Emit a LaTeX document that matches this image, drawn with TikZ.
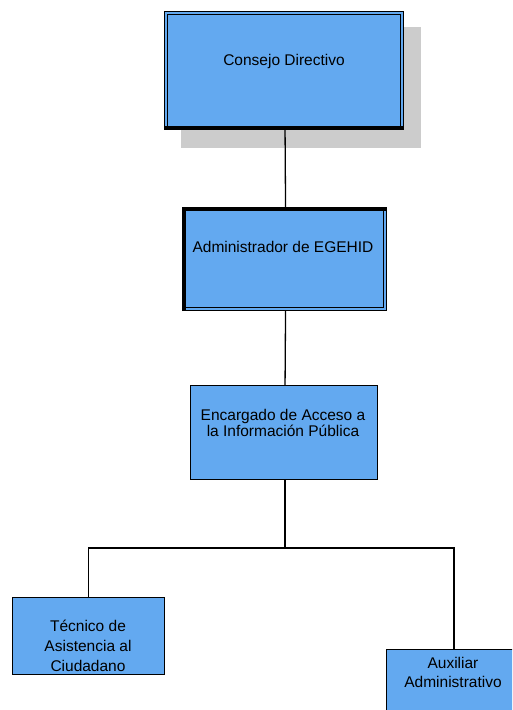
\documentclass[tikz,border=0pt]{standalone}
\usepackage{fontspec}
\setmainfont{Liberation Sans}
\definecolor{boxblue}{RGB}{99,169,240}
\definecolor{shadowgray}{RGB}{204,204,204}
\tikzset{
  box/.style={draw=black, fill=boxblue, line width=1.1pt, inner sep=0pt, anchor=north west},
  lbl/.style={align=center, inner sep=0pt, font=\fontsize{15.5}{16}\selectfont},
  conn/.style={draw=black, line width=1.3pt},
  thin/.style={draw=black, line width=1pt},
}
\begin{document}
\begin{tikzpicture}[x=1pt,y=-1pt]
\useasboundingbox (0,0) rectangle (512,710);
\clip (0,0) rectangle (512,710);
% shadow of top box
\fill[shadowgray] (181,27) rectangle (421,148);
% box 1
\node[box, minimum width=239pt, minimum height=118pt] (b1) at (164,11) {};
\draw[thin] ([shift={(3,3)}]b1.north west) rectangle ([shift={(-4,-4)}]b1.south east);
\draw[line width=3.5pt] ([shift={(0,-2)}]b1.south west) -- ([shift={(0,-2)}]b1.south east);
\node[lbl] (t1) at (284,61) {Consejo Directivo};
% box 2
\node[box, minimum width=204pt, minimum height=103pt] (b2) at (182,207) {};
\draw[thin] ([shift={(3,3)}]b2.north west) rectangle ([shift={(-4,-4)}]b2.south east);
\draw[line width=4pt] ([shift={(2,0)}]b2.south west) -- ([shift={(2,2)}]b2.north west) -- ([shift={(0,2)}]b2.north east);
\node[lbl] (t2) at (283,247) {Administrador de EGEHID};
% box 3
\node[box, minimum width=187pt, minimum height=94pt] (b3) at (190,385) {};
\node[lbl, font=\fontsize{15.5}{16}\selectfont] (t3) at (283,423) {Encargado de Acceso a\\la Información Pública};
% box 4
\node[box, minimum width=152pt, minimum height=77pt] (b4) at (12,597) {};
\node[lbl, font=\fontsize{15.5}{20}\selectfont] (t4) at (88,646) {Técnico de\\Asistencia al\\Ciudadano};
% box 5 (runs past the page edge)
\node[box, minimum width=180pt, minimum height=110pt] (b5) at (386,649) {};
\coordinate (b5top) at ([xshift=68]b5.north west);
\node[lbl, font=\fontsize{15.5}{19}\selectfont] (t5) at (453,672.5) {Auxiliar\\Administrativo};
% connectors
\draw[conn] ([xshift=1]b1.south) -- ([xshift=1]b2.north);
\draw[conn] ([xshift=1]b2.south) -- ([xshift=1]b3.north);
\path ([xshift=1]b3.south) ++(0,68) coordinate (j);
\draw[conn] ([xshift=1]b3.south) -- (j);
\draw[conn] (b4.north) |- (j) -| (b5top);
\end{tikzpicture}
\end{document}
